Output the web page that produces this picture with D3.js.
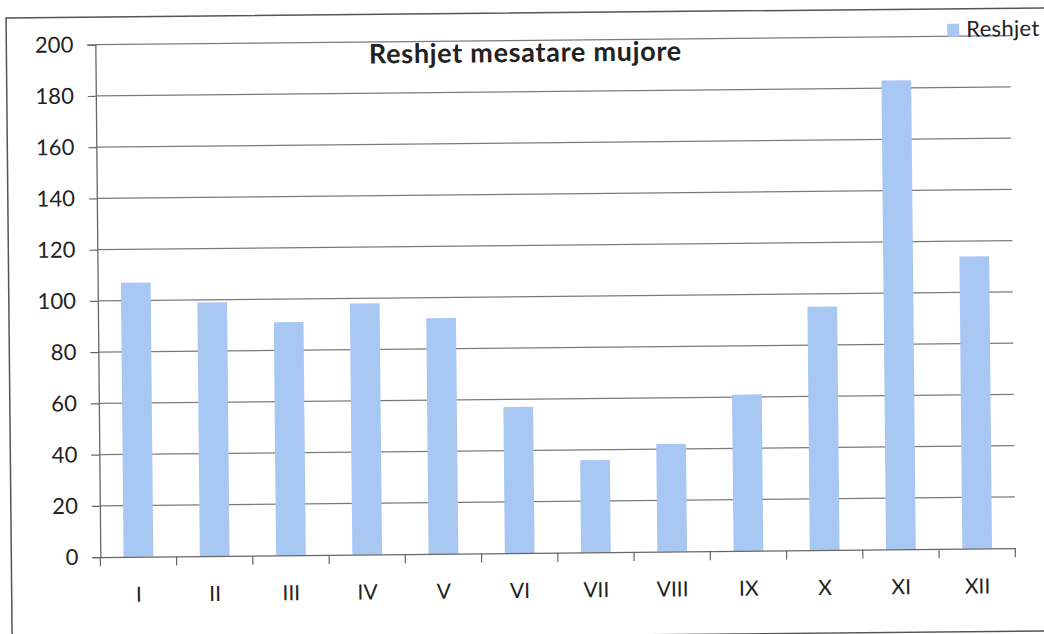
<!DOCTYPE html>
<html>
<head>
<meta charset="utf-8">
<script src="https://cdn.jsdelivr.net/npm/d3@7"></script>
<style>
  body { margin: 0; background: #fff; }
  svg { display: block; }
  text { font-family: Lato, "Open Sans", sans-serif; fill: #222; }
</style>
</head>
<body>
<svg id="chart" width="1044" height="634"></svg>
<script>
// monthly mean precipitation
var months = ["I", "II", "III", "IV", "V", "VI", "VII", "VIII", "IX", "X", "XI", "XII"];
var reshjet = [107, 99, 91, 98, 92, 57, 36, 42, 61, 95, 183, 114];
var yTicks = [0, 20, 40, 60, 80, 100, 120, 140, 160, 180, 200];
var title = "Reshjet mesatare mujore";
var seriesName = "Reshjet";

function draw() {
    var svg = d3.select("#chart");
    var W = +svg.attr("width"), H = +svg.attr("height");

    // the scanned page is slightly tilted, so the whole drawing gets a small turn
    var root = svg.append("g")
        .attr("transform", "rotate(-0.56," + W / 2 + "," + H / 2 + ")");

    var plotL = 98, plotR = 1013, plotT = 40.5, plotB = 553;

    var x = d3.scaleBand().domain(months).range([plotL, plotR]).padding(0);
    var y = d3.scaleLinear().domain([0, 200]).range([plotB, plotT]);

    // outer frame
    root.append("rect")
        .attr("x", 9).attr("y", 13)
        .attr("width", 1070).attr("height", 623)
        .attr("fill", "none")
        .attr("stroke", "#555")
        .attr("stroke-width", 1.5);

    // gridlines
    root.append("g")
        .selectAll("line")
        .data(yTicks.filter(function(d) { return d > 0; }))
        .enter()
        .append("line")
            .attr("x1", plotL).attr("x2", plotR)
            .attr("y1", function(d) { return y(d); })
            .attr("y2", function(d) { return y(d); })
            .attr("stroke", "#7a7a7a")
            .attr("stroke-width", 1.2);

    // bars
    var barW = x.bandwidth() * 0.39;
    root.append("g")
        .selectAll("rect")
        .data(reshjet)
        .enter()
        .append("rect")
            .attr("x", function(d, i) { return x(months[i]) + (x.bandwidth() - barW) / 2; })
            .attr("y", function(d) { return y(d); })
            .attr("width", barW)
            .attr("height", function(d) { return y(0) - y(d); })
            .attr("fill", "#a9c7f3");

    // y axis
    var yAxis = d3.axisLeft(y).tickValues(yTicks).tickSize(8).tickPadding(14);
    var gy = root.append("g")
        .attr("transform", "translate(" + plotL + ",0)")
        .call(yAxis);
    gy.select(".domain").attr("stroke", "#666").attr("stroke-width", 1.3);
    gy.selectAll(".tick line").attr("stroke", "#666").attr("stroke-width", 1.2);
    gy.selectAll(".tick text")
        .style("font-size", "22px")
        .attr("fill", "#222");

    // x axis: labels at band centres, tick marks at band edges
    var xAxis = d3.axisBottom(x).tickSize(0).tickPadding(30);
    var gx = root.append("g")
        .attr("transform", "translate(0," + plotB + ")")
        .call(xAxis);
    gx.select(".domain").attr("stroke", "#666").attr("stroke-width", 1.3);
    gx.selectAll(".tick text")
        .style("font-size", "21px")
        .attr("fill", "#222");

    var edges = months.map(function(m) { return x(m); }).concat([plotR]);
    root.append("g")
        .selectAll("line")
        .data(edges)
        .enter()
        .append("line")
            .attr("x1", function(d) { return d; })
            .attr("x2", function(d) { return d; })
            .attr("y1", plotB)
            .attr("y2", plotB + 9)
            .attr("stroke", "#666")
            .attr("stroke-width", 1.2);

    // title
    root.append("text")
        .attr("x", 528)
        .attr("y", 62)
        .attr("text-anchor", "middle")
        .style("font-size", "27px")
        .style("font-weight", "bold")
        .style("letter-spacing", "0.7px")
        .attr("fill", "#2a2a2a")
        .text(title);

    // legend
    var legend = root.append("g").attr("transform", "translate(950,28)");
    legend.append("rect")
        .attr("width", 12).attr("height", 13)
        .attr("fill", "#a9c7f3");
    legend.append("text")
        .attr("x", 19)
        .attr("y", 13)
        .style("font-size", "22px")
        .style("letter-spacing", "0.3px")
        .text(seriesName);
}

draw();
</script>
</body>
</html>
